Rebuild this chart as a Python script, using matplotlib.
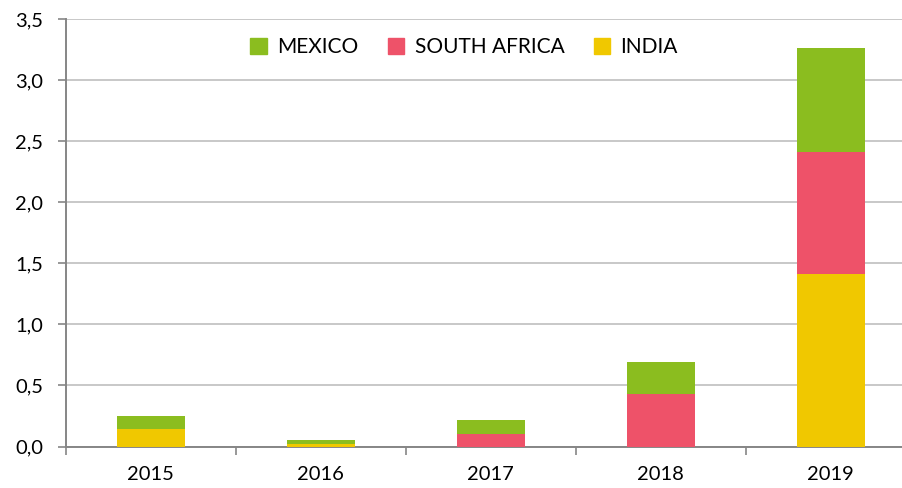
import matplotlib
matplotlib.use("Agg")
import matplotlib.pyplot as plt
from matplotlib.patches import Patch
import numpy as np

years = ["2015", "2016", "2017", "2018", "2019"]
india = [0.14, 0.02, 0.0, 0.0, 1.41]
south_africa = [0.0, 0.0, 0.10, 0.43, 1.00]
mexico = [0.11, 0.03, 0.12, 0.26, 0.85]
series_names = ["MEXICO", "SOUTH AFRICA", "INDIA"]
yticks = [0.0, 0.5, 1.0, 1.5, 2.0, 2.5, 3.0, 3.5]

c_mex = "#8BBD1F"
c_sa = "#EE5269"
c_ind = "#F0C800"

plt.rcParams['font.family'] = ['Lato', 'DejaVu Sans']

fig = plt.figure(figsize=(9.02, 4.88), dpi=100)
W, H = 902, 488
x0, x1 = 65.7, 915.7
yb, yt = 446.5, 19.0
ax = fig.add_axes([x0 / W, (H - yb) / H, (x1 - x0) / W, (yb - yt) / H])

x = np.arange(len(years))
w = 0.4
ind = np.array(india)
sa = np.array(south_africa)
mx = np.array(mexico)
ax.bar(x, ind, w, color=c_ind, zorder=3)
ax.bar(x, sa, w, bottom=ind, color=c_sa, zorder=3)
ax.bar(x, mx, w, bottom=ind + sa, color=c_mex, zorder=3)

ax.set_xlim(-0.5, len(years) - 0.5)
ax.set_ylim(0, 3.5)
ax.set_yticks(yticks)
ax.set_yticklabels([f"{v:.1f}".replace(".", ",") for v in yticks])
ax.yaxis.grid(True, color="#BFBFBF", linewidth=1.2, zorder=0)
ax.set_axisbelow(True)

ax.set_xticks(x)
ax.set_xticklabels(years)
ax.set_xticks(np.arange(-0.5, len(years) - 0.4, 1.0), minor=True)
ax.tick_params(axis="x", which="major", length=0, pad=14, labelsize=14.5, colors="#000000")
ax.tick_params(axis="x", which="minor", length=6, width=1.2, color="#868686")
ax.tick_params(axis="y", length=6, width=1.2, color="#868686", pad=10, labelsize=14.5, labelcolor="#000000")

for s in ["top", "right"]:
    ax.spines[s].set_visible(False)
for s in ["left", "bottom"]:
    ax.spines[s].set_color("#868686")
    ax.spines[s].set_linewidth(1.4)

handles = [Patch(color=c_mex), Patch(color=c_sa), Patch(color=c_ind)]
leg = fig.legend(handles, series_names, loc="center", bbox_to_anchor=(464 / W, 1 - 47 / H),
                 ncol=3, frameon=False, fontsize=15, handlelength=0.8, handleheight=0.8,
                 handletextpad=0.5, columnspacing=1.4)

fig.savefig("out.png", dpi=100)
